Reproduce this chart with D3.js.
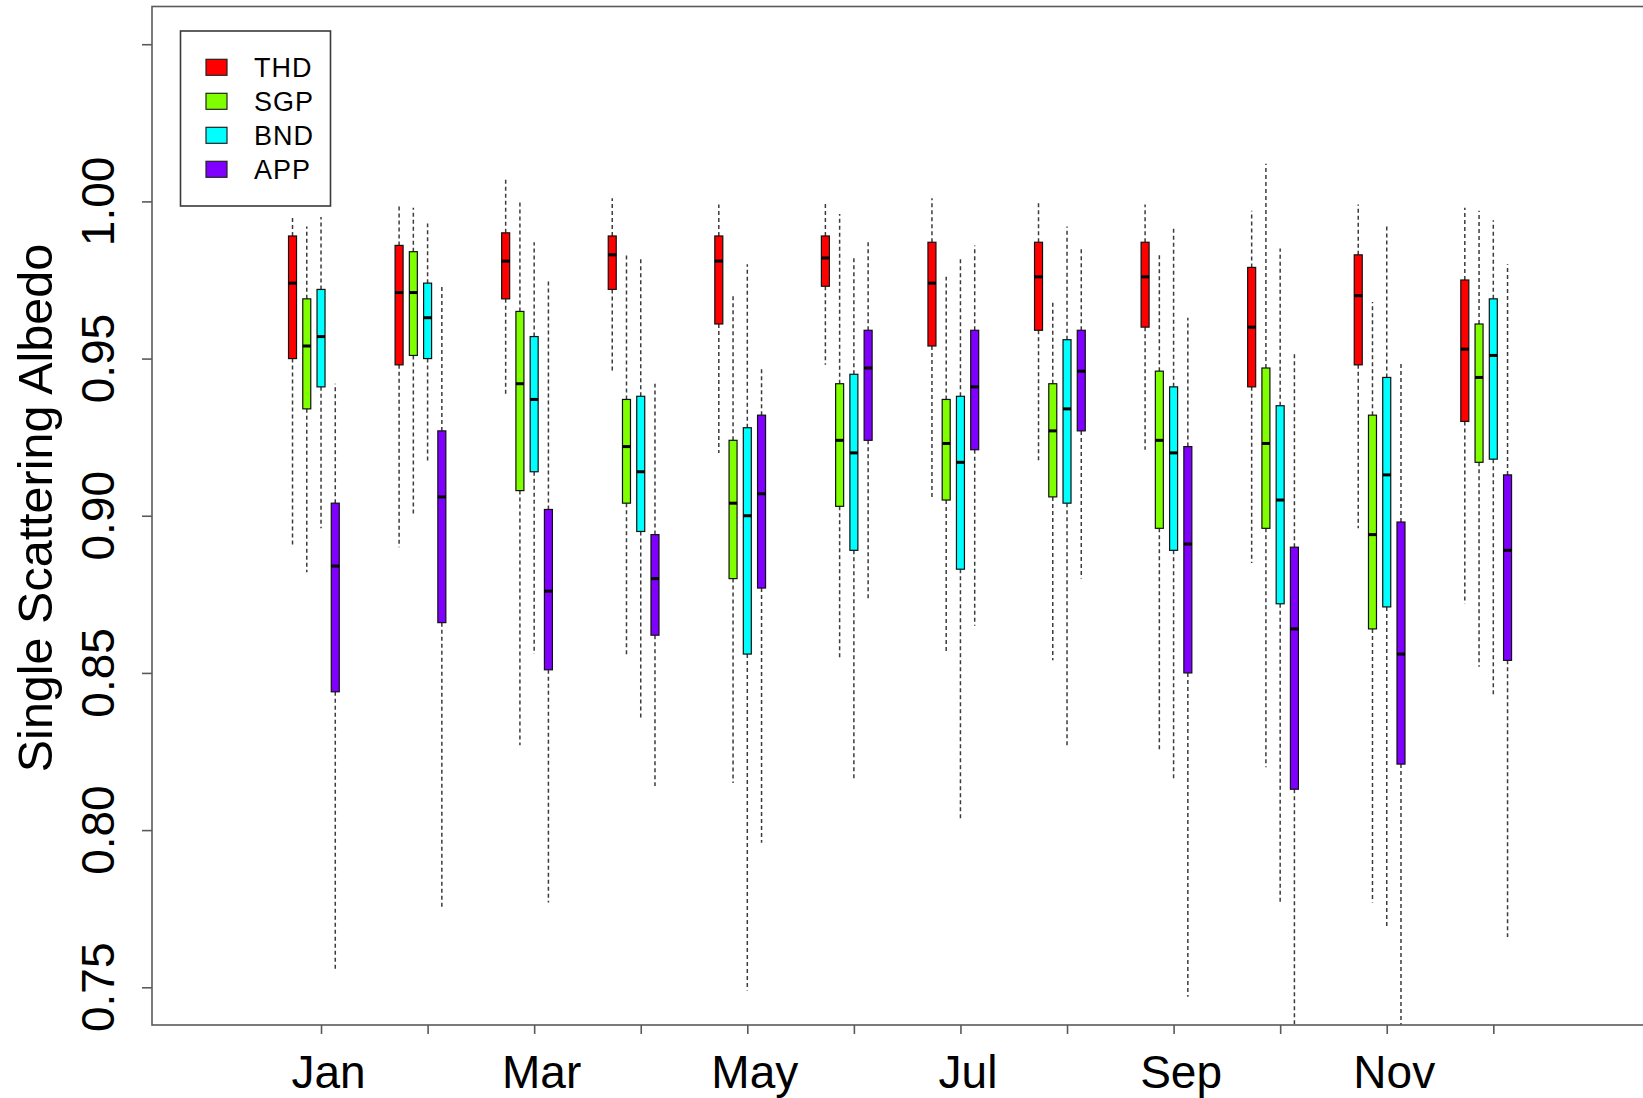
<!DOCTYPE html>
<html>
<head>
<meta charset="utf-8">
<script src="https://cdn.jsdelivr.net/npm/d3@7"></script>
<style>
  body { margin: 0; background: #fff; }
  svg { display: block; }
  text { font-family: "Liberation Sans", Arial, Helvetica, sans-serif; fill: #000; }
</style>
</head>
<body>
<svg id="chart" width="1643" height="1098"></svg>
<script>
// Monthly single scattering albedo distributions per site.
const months = ["Jan", "Feb", "Mar", "Apr", "May", "Jun", "Jul", "Aug", "Sep", "Oct", "Nov", "Dec"];
const stations = ["THD", "SGP", "BND", "APP"];
const stationColors = ["#FF0000", "#80FF00", "#00FFFF", "#8000FF"];

// Each entry: [lower whisker, Q1, median, Q3, upper whisker]
const thd = [
  [0.890, 0.950, 0.974, 0.989, 0.995],
  [0.890, 0.948, 0.971, 0.986, 0.999],
  [0.938, 0.969, 0.981, 0.990, 1.007],
  [0.946, 0.972, 0.983, 0.989, 1.001],
  [0.920, 0.961, 0.981, 0.989, 0.999],
  [0.948, 0.973, 0.982, 0.989, 1.000],
  [0.905, 0.954, 0.974, 0.987, 1.001],
  [0.917, 0.959, 0.976, 0.987, 1.000],
  [0.921, 0.960, 0.976, 0.987, 0.999],
  [0.885, 0.941, 0.960, 0.979, 0.997],
  [0.896, 0.948, 0.970, 0.983, 0.999],
  [0.872, 0.930, 0.953, 0.975, 0.998]
];
const sgp = [
  [0.882, 0.934, 0.954, 0.969, 0.992],
  [0.900, 0.951, 0.971, 0.984, 0.998],
  [0.827, 0.908, 0.942, 0.965, 1.000],
  [0.855, 0.904, 0.922, 0.937, 0.983],
  [0.815, 0.880, 0.904, 0.924, 0.970],
  [0.855, 0.903, 0.924, 0.942, 0.996],
  [0.857, 0.905, 0.923, 0.937, 0.976],
  [0.854, 0.906, 0.927, 0.942, 0.968],
  [0.825, 0.896, 0.924, 0.946, 0.983],
  [0.820, 0.896, 0.923, 0.947, 1.012],
  [0.777, 0.864, 0.894, 0.932, 0.968],
  [0.852, 0.917, 0.944, 0.961, 0.997]
];
const bnd = [
  [0.896, 0.941, 0.957, 0.972, 0.995],
  [0.917, 0.950, 0.963, 0.974, 0.993],
  [0.856, 0.914, 0.937, 0.957, 0.987],
  [0.835, 0.895, 0.914, 0.938, 0.982],
  [0.749, 0.856, 0.900, 0.928, 0.980],
  [0.816, 0.889, 0.920, 0.945, 0.982],
  [0.803, 0.883, 0.917, 0.938, 0.982],
  [0.827, 0.904, 0.934, 0.956, 0.992],
  [0.816, 0.889, 0.920, 0.941, 0.992],
  [0.777, 0.872, 0.905, 0.935, 0.985],
  [0.769, 0.871, 0.913, 0.944, 0.993],
  [0.843, 0.918, 0.951, 0.969, 0.994]
];
const app = [
  [0.755, 0.844, 0.884, 0.904, 0.942],
  [0.775, 0.866, 0.906, 0.927, 0.973],
  [0.777, 0.851, 0.876, 0.902, 0.975],
  [0.814, 0.862, 0.880, 0.894, 0.942],
  [0.796, 0.877, 0.907, 0.932, 0.947],
  [0.873, 0.924, 0.947, 0.959, 0.987],
  [0.865, 0.921, 0.941, 0.959, 0.986],
  [0.880, 0.927, 0.946, 0.959, 0.985],
  [0.747, 0.850, 0.891, 0.922, 0.963],
  [0.735, 0.813, 0.864, 0.890, 0.952],
  [0.735, 0.821, 0.856, 0.898, 0.949],
  [0.766, 0.854, 0.889, 0.913, 0.980]
];
const stationStats = [thd, sgp, bnd, app];

const yTicks = [0.75, 0.80, 0.85, 0.90, 0.95, 1.00, 1.05];
const yLabel = "Single Scattering Albedo";

// Layout
const plot = { left: 152, top: 6.5, right: 1790, bottom: 1025 };
const boxOffsets = [-2, -1, 0, 1].map(k => k * 0.1337); // in month units
const boxWidth = 8;

const x = d3.scaleLinear().domain([-0.586, 14.784]).range([plot.left, plot.right]);
const y = d3.scaleLinear().domain([0.738, 1.062]).range([plot.bottom, plot.top]);

const svg = d3.select("#chart");

svg.append("defs").append("clipPath").attr("id", "plot-clip")
  .append("rect")
  .attr("x", plot.left).attr("y", plot.top)
  .attr("width", plot.right - plot.left).attr("height", plot.bottom - plot.top);

// Boxes
const boxesG = svg.append("g").attr("clip-path", "url(#plot-clip)");
stationStats.forEach((stats, s) => {
  const g = boxesG.append("g").attr("class", "station-" + stations[s]);
  const items = stats.map((st, i) => ({ month: i + 1, st }));
  const cx = d => x(d.month + boxOffsets[s]);

  // whiskers (dashed)
  g.selectAll("line.whisker-hi").data(items).join("line")
    .attr("class", "whisker-hi")
    .attr("x1", cx).attr("x2", cx)
    .attr("y1", d => y(d.st[3])).attr("y2", d => y(d.st[4]))
    .attr("stroke", "#3c3c3c").attr("stroke-width", 1.5).attr("stroke-dasharray", "4,3");
  g.selectAll("line.whisker-lo").data(items).join("line")
    .attr("class", "whisker-lo")
    .attr("x1", cx).attr("x2", cx)
    .attr("y1", d => y(d.st[1])).attr("y2", d => y(d.st[0]))
    .attr("stroke", "#3c3c3c").attr("stroke-width", 1.5).attr("stroke-dasharray", "4,3");

  // interquartile boxes
  g.selectAll("rect.box").data(items).join("rect")
    .attr("class", "box")
    .attr("x", d => cx(d) - boxWidth / 2)
    .attr("y", d => y(d.st[3]))
    .attr("width", boxWidth)
    .attr("height", d => y(d.st[1]) - y(d.st[3]))
    .attr("fill", stationColors[s])
    .attr("stroke", "#111").attr("stroke-width", 1.2);

  // medians
  g.selectAll("line.median").data(items).join("line")
    .attr("class", "median")
    .attr("x1", d => cx(d) - boxWidth / 2).attr("x2", d => cx(d) + boxWidth / 2)
    .attr("y1", d => y(d.st[2])).attr("y2", d => y(d.st[2]))
    .attr("stroke", "#000").attr("stroke-width", 3);
});

// Frame
svg.append("rect")
  .attr("x", plot.left).attr("y", plot.top)
  .attr("width", plot.right - plot.left).attr("height", plot.bottom - plot.top)
  .attr("fill", "none").attr("stroke", "#5a5a5a").attr("stroke-width", 1.6);

// Left axis
const yAxis = svg.append("g")
  .attr("transform", `translate(${plot.left},0)`)
  .call(d3.axisLeft(y).tickValues(yTicks).tickSize(10).tickFormat(""));
yAxis.select(".domain").remove();
yAxis.selectAll(".tick line").attr("stroke", "#5a5a5a").attr("stroke-width", 1.6);

svg.append("g").selectAll("text").data(yTicks.filter(v => v < 1.04)).join("text")
  .attr("transform", d => `translate(114,${y(d)}) rotate(-90)`)
  .attr("text-anchor", "middle")
  .style("font-size", "46px")
  .text(d => d3.format(".2f")(d));

// Bottom axis
const xAxis = svg.append("g")
  .attr("transform", `translate(0,${plot.bottom})`)
  .call(d3.axisBottom(x).tickValues(d3.range(1, 13)).tickSize(9)
    .tickFormat((d, i) => (i % 2 === 0 ? months[i] : "")));
xAxis.select(".domain").remove();
xAxis.selectAll(".tick line").attr("stroke", "#5a5a5a").attr("stroke-width", 1.6);
xAxis.selectAll(".tick text")
  .attr("y", 63).attr("dy", null).attr("dx", 7)
  .attr("fill", "#000")
  .style("font-size", "46px")
  .style("font-family", "\"Liberation Sans\", Arial, sans-serif");

// Y axis title
svg.append("text")
  .attr("transform", "translate(52,508) rotate(-90)")
  .attr("text-anchor", "middle")
  .style("font-size", "48.5px")
  .text(yLabel);

// Legend
const legend = svg.append("g");
legend.append("rect")
  .attr("x", 180.5).attr("y", 31).attr("width", 150).attr("height", 175)
  .attr("fill", "#fff").attr("stroke", "#3a3a3a").attr("stroke-width", 1.6);
const rows = legend.selectAll("g.row").data(stations).join("g")
  .attr("class", "row")
  .attr("transform", (d, i) => `translate(0,${67.3 + 34 * i})`);
rows.append("rect")
  .attr("x", 206).attr("y", -8).attr("width", 21).attr("height", 16)
  .attr("fill", (d, i) => stationColors[i])
  .attr("stroke", "#222").attr("stroke-width", 1.2);
rows.append("text")
  .attr("x", 254).attr("y", 9.5)
  .style("font-size", "27px")
  .style("letter-spacing", "1px")
  .text(d => d);
</script>
</body>
</html>
